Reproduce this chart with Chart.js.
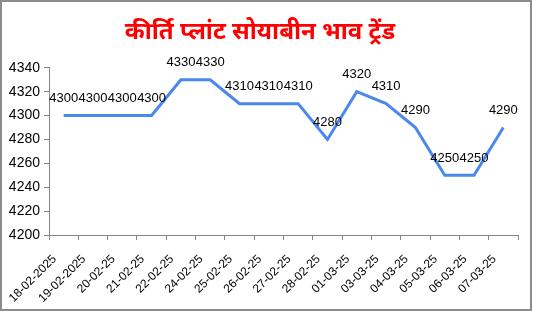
<!DOCTYPE html>
<html lang="hi">
<head>
  <meta charset="UTF-8" />
  <title>कीर्ति प्लांट सोयाबीन भाव ट्रेंड</title>
  <script src="https://cdn.jsdelivr.net/npm/chart.js"></script>
  <style>
    body { margin: 0; background: #fff; }
    #box { width: 532px; height: 311px; box-sizing: border-box; border: 2px solid #8c8c8c; }
  </style>
</head>
<body>
  <div id="box"><canvas id="rateChart" width="528" height="307"></canvas></div>

  <script>
    const chartTitle = "कीर्ति प्लांट सोयाबीन भाव ट्रेंड";
    const dates = ["18-02-2025", "19-02-2025", "20-02-25", "21-02-25", "22-02-25", "24-02-25",
      "25-02-25", "26-02-25", "27-02-25", "28-02-25", "01-03-25", "03-03-25",
      "04-03-25", "05-03-25", "06-03-25", "07-03-25"];
    const rates = [4300, 4300, 4300, 4300, 4330, 4330, 4310, 4310, 4310, 4280, 4320, 4310, 4290, 4250, 4250, 4290];

    // Werte über die Punkte schreiben
    const valueLabels = {
      id: "valueLabels",
      afterDatasetsDraw(chart) {
        const ctx = chart.ctx;
        const meta = chart.getDatasetMeta(0);
        ctx.save();
        ctx.font = "13px 'Liberation Sans', Arial, sans-serif";
        ctx.fillStyle = "#000";
        ctx.textAlign = "center";
        ctx.textBaseline = "middle";
        meta.data.forEach((pt, i) => {
          ctx.fillText(String(rates[i]), pt.x, pt.y - 17);
        });
        ctx.restore();
      }
    };

    new Chart(document.getElementById("rateChart"), {
      type: "line",
      data: {
        labels: dates,
        datasets: [{
          data: rates,
          borderColor: "#4a88ee",
          borderWidth: 3,
          pointRadius: 0,
          tension: 0,
          fill: false
        }]
      },
      options: {
        responsive: false,
        animation: false,
        layout: { padding: { top: 0, right: 12, bottom: 0, left: 0 } },
        plugins: {
          legend: { display: false },
          tooltip: { enabled: false },
          title: {
            display: true,
            text: chartTitle,
            color: "#ff0000",
            font: { size: 24, weight: "bold", family: "'Noto Sans', sans-serif" },
            padding: { top: 16, bottom: 21 }
          }
        },
        scales: {
          x: {
            offset: true,
            grid: { offset: true, drawOnChartArea: false, tickLength: 5, color: "#868686" },
            border: { color: "#868686" },
            ticks: {
              autoSkip: false,
              maxRotation: 45,
              minRotation: 45,
              padding: 12,
              labelOffset: -9,
              color: "#000",
              font: { size: 12, family: "'Liberation Sans', Arial, sans-serif" }
            },
            afterFit(scale) { scale.height = 74; }
          },
          y: {
            min: 4200,
            max: 4340,
            grid: { drawOnChartArea: false, tickLength: 5, color: "#868686" },
            border: { color: "#868686" },
            ticks: {
              stepSize: 20,
              color: "#000",
              padding: 4,
              font: { size: 14, family: "'Liberation Sans', Arial, sans-serif" },
              callback: (v) => String(v)
            },
            afterFit(scale) { scale.width = 47; }
          }
        }
      },
      plugins: [valueLabels]
    });
  </script>
</body>
</html>
